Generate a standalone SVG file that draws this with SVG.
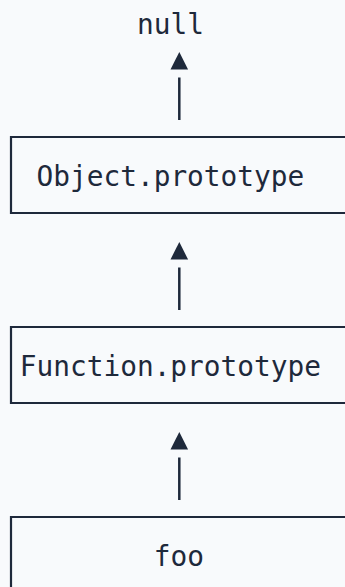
<svg xmlns="http://www.w3.org/2000/svg" width="345" height="587" viewBox="0 0 345 587">
  <defs>
    <style>
      .bg { fill: #f8fafc; }
      .box { fill: none; stroke: #1e293b; stroke-width: 2.2; }
      .label { font-family: "DejaVu Sans Mono", "Liberation Mono", monospace; font-size: 27.8px; fill: #1e293b; }
      .conn { stroke: #1e293b; stroke-width: 2.5; fill: none; marker-end: url(#head); }
    </style>
    <marker id="head" markerUnits="userSpaceOnUse" viewBox="0 -10 28 20" refX="0" refY="0" markerWidth="28" markerHeight="20" orient="auto" overflow="visible">
      <polygon points="8,-8.8 25.5,0 8,8.8" fill="#1e293b"/>
    </marker>
  </defs>
  <rect class="bg" x="0" y="0" width="345" height="587"/>

  <g id="node-null">
    <text class="label" x="137" y="33.5">null</text>
  </g>

  <g id="node-object-prototype">
    <path class="box" d="M360 137 H11 V213 H360"/>
    <text class="label" x="36.5" y="186">Object.prototype</text>
  </g>

  <g id="node-function-prototype">
    <path class="box" d="M360 327 H11 V403 H360"/>
    <text class="label" x="19.75" y="375.5">Function.prototype</text>
  </g>

  <g id="node-foo">
    <path class="box" d="M360 517 H11 V600"/>
    <text class="label" x="153.75" y="565.5">foo</text>
  </g>

  <g id="connectors">
    <line class="conn" x1="179.3" y1="120" x2="179.3" y2="77.5"/>
    <line class="conn" x1="179.3" y1="310" x2="179.3" y2="267.5"/>
    <line class="conn" x1="179.3" y1="500" x2="179.3" y2="457.5"/>
  </g>
</svg>
